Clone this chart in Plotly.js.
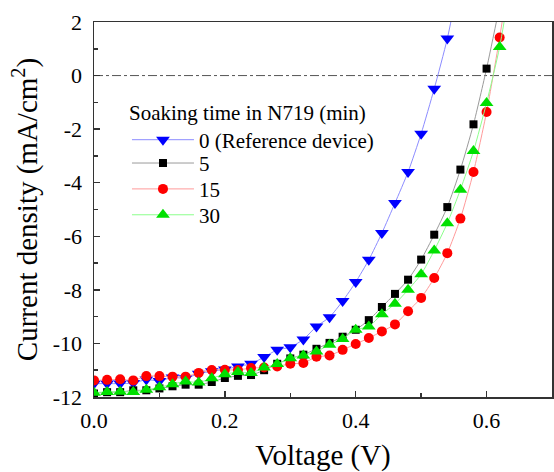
<!DOCTYPE html>
<html>
<head>
<meta charset="utf-8">
<script src="https://cdn.plot.ly/plotly-3.0.1.min.js"></script>
<style>
html,body{margin:0;padding:0;background:#fff;}
#chart{width:554px;height:472px;}
</style>
</head>
<body>
<div id="chart"></div>
<script>
// Voltage (V)
var voltage = [0, 0.02, 0.04, 0.06, 0.08, 0.10, 0.12, 0.14, 0.16, 0.18, 0.20, 0.22, 0.24, 0.26, 0.28, 0.30, 0.32, 0.34, 0.36, 0.38, 0.40, 0.42, 0.44, 0.46, 0.48, 0.50, 0.52, 0.54, 0.56, 0.58, 0.60, 0.62, 0.64];
// Current density (mA/cm2)
var j0 = [-11.50, -11.50, -11.50, -11.48, -11.35, -11.40, -11.27, -11.30, -11.13, -11.04, -10.97, -10.86, -10.76, -10.51, -10.24, -10.14, -9.85, -9.37, -9.02, -8.42, -7.71, -6.88, -5.88, -4.76, -3.60, -2.17, -0.49, 1.38, 3.80];
var j5 = [-11.87, -11.82, -11.82, -11.75, -11.75, -11.68, -11.60, -11.54, -11.54, -11.44, -11.29, -11.21, -11.18, -11.00, -10.76, -10.56, -10.42, -10.20, -9.98, -9.75, -9.49, -9.13, -8.64, -8.15, -7.62, -6.87, -5.94, -4.91, -3.51, -1.82, 0.26, 2.60];
var j15 = [-11.38, -11.36, -11.34, -11.38, -11.22, -11.22, -11.24, -11.24, -11.10, -10.99, -10.98, -10.99, -10.92, -10.90, -10.86, -10.76, -10.73, -10.50, -10.45, -10.24, -10.02, -9.80, -9.55, -9.29, -8.80, -8.30, -7.56, -6.63, -5.34, -3.60, -1.36, 1.42, 4.60];
var j30 = [-11.84, -11.81, -11.80, -11.81, -11.73, -11.64, -11.52, -11.42, -11.46, -11.30, -11.15, -11.07, -11.10, -10.90, -10.77, -10.55, -10.45, -10.30, -10.05, -9.83, -9.49, -9.37, -8.91, -8.52, -8.00, -7.42, -6.53, -5.51, -4.26, -2.82, -1.02, 1.07, 4.00];
var seriesNames = ['0 (Reference device)', '5', '15', '30'];
var legendTitle = 'Soaking time in N719 (min)';
var xTickVals = [0, 0.2, 0.4, 0.6];
var xTickText = ['0.0', '0.2', '0.4', '0.6'];
var yTickVals = [2, 0, -2, -4, -6, -8, -10, -12];
var yTickText = ['2', '0', '-2', '-4', '-6', '-8', '-10', '-12'];

var FONT = 'Liberation Serif';

function mk(y, name, legendId, lineColor, markerColor, symbol, size) {
  return {
    x: voltage.slice(0, y.length), y: y, name: name, legend: legendId,
    type: 'scatter', mode: 'lines+markers',
    line: {color: lineColor, width: 1, shape: 'spline', smoothing: 0.6},
    marker: {color: markerColor, symbol: symbol, size: size, line: {width: 0}},
    cliponaxis: true
  };
}

var traces = [
  mk(j0, seriesNames[0], 'legend', '#8c8cff', '#0000ff', 'triangle-down', 12),
  mk(j5, seriesNames[1], 'legend2', '#9a9a9a', '#000000', 'square', 8),
  mk(j15, seriesNames[2], 'legend3', '#ff9a9a', '#ff0000', 'circle', 10),
  mk(j30, seriesNames[3], 'legend4', '#8cff8c', '#00e000', 'triangle-up', 12)
];

function leg(y, withTitle) {
  var o = {
    x: 0.072, y: y, xanchor: 'left', yanchor: 'middle',
    bgcolor: 'rgba(0,0,0,0)', borderwidth: 0,
    font: {family: FONT, size: 21, color: '#000'},
    itemwidth: 62, tracegroupgap: 0
  };
  if (withTitle) o.title = {text: legendTitle, font: {family: FONT, size: 21, color: '#000'}};
  return o;
}

var layout = {
  width: 554, height: 472,
  margin: {l: 94, r: 2, t: 22, b: 75},
  paper_bgcolor: '#fff', plot_bgcolor: '#fff',
  font: {family: FONT, color: '#000', size: 22},
  showlegend: true,
  legend: leg(0.722, true),
  legend2: leg(0.623, false),
  legend3: leg(0.554, false),
  legend4: leg(0.485, false),
  xaxis: {
    range: [0, 0.7], showgrid: false, zeroline: false,
    showline: true, linecolor: '#333', linewidth: 1.5, mirror: true,
    ticks: 'inside', ticklen: 6, tickcolor: '#333', tickwidth: 1.5,
    tickvals: xTickVals, ticktext: xTickText,
    minor: {dtick: 0.1, tick0: 0, ticks: 'inside', ticklen: 4, tickcolor: '#333', tickwidth: 1.5},
    tickfont: {family: FONT, size: 22, color: '#000'},
    ticklabelstandoff: 3,
    title: {text: 'Voltage (V)', font: {family: FONT, size: 29}, standoff: 20}
  },
  yaxis: {
    range: [-12, 2], showgrid: false, zeroline: false,
    showline: true, linecolor: '#333', linewidth: 1.5, mirror: true,
    ticks: 'inside', ticklen: 6, tickcolor: '#333', tickwidth: 1.5,
    tickvals: yTickVals, ticktext: yTickText,
    minor: {dtick: 1, tick0: 0, ticks: 'inside', ticklen: 4, tickcolor: '#333', tickwidth: 1.5},
    tickfont: {family: FONT, size: 22, color: '#000'},
    ticklabelstandoff: 6,
    title: {text: 'Current density (mA/cm<sup>2</sup>)', font: {family: FONT, size: 29}, standoff: 6}
  },
  shapes: [{
    type: 'line', xref: 'paper', yref: 'y', x0: 0, x1: 1, y0: 0, y1: 0,
    line: {color: '#555', width: 1, dash: 'dashdot'}, layer: 'below'
  }]
};

Plotly.newPlot('chart', traces, layout, {displayModeBar: false, staticPlot: true});
</script>
</body>
</html>
